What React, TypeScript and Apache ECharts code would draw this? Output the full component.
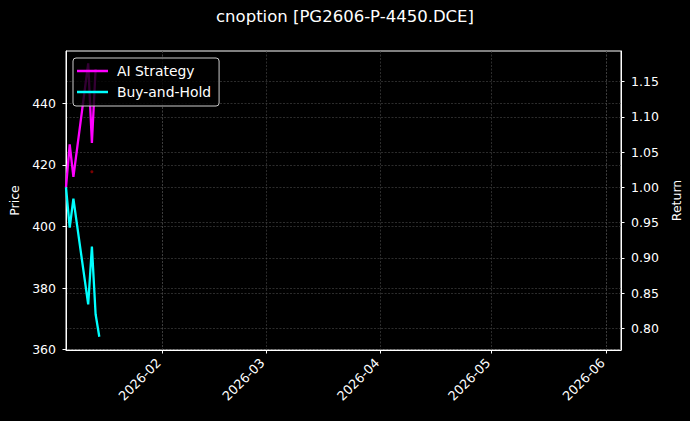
import * as echarts from 'echarts';
import React, { useEffect, useRef } from 'react';

// trading days shown on the chart
const dates = ['2026-01-06', '2026-01-07', '2026-01-08', '2026-01-09', '2026-01-12', '2026-01-13', '2026-01-14', '2026-01-15'];
// cumulative return, AI strategy (no value on the last day)
const aiStrategy = [1.0, 1.061, 1.015, 1.055, 1.176, 1.063, 1.168, null];
// cumulative return, buy-and-hold
const buyAndHold = [1.0, 0.943, 0.984, 0.946, 0.834, 0.916, 0.82, 0.788];
// trade marker on the price axis
const tradeDates = ['2026-01-13'];
const tradePrices = [417.8];

const monthTicks = ['2026-02-01', '2026-03-01', '2026-04-01', '2026-05-01', '2026-06-01'];
const priceTicks = [360, 380, 400, 420, 440];
const returnTicks = [0.8, 0.85, 0.9, 0.95, 1.0, 1.05, 1.1, 1.15];

const ts = (s: string) => {
  const [y, m, d] = s.split('-').map(Number);
  return new Date(y, m - 1, d).getTime();
};

const FONT = 'DejaVu Sans';
const gridLine = { show: true, lineStyle: { color: '#4a4a4a', width: 0.6, type: [2, 1.5] } };
const tick = { show: true, length: 3.5, lineStyle: { color: '#fff', width: 1 } };

const App: React.FC = () => {
  const chartRef = useRef<HTMLDivElement>(null);

  useEffect(() => {
    document.body.style.margin = '0';
    document.body.style.background = '#000';
    const myChart = echarts.init(chartRef.current!, null, { renderer: 'svg' });

    const toPairs = (vals: (number | null)[]) =>
      dates.map((d, i) => [ts(d), vals[i]]).filter((p) => p[1] !== null);

    const option = {
      animation: false,
      backgroundColor: '#000',
      title: {
        text: 'cnoption [PG2606-P-4450.DCE]',
        left: 'center',
        top: 8,
        padding: 0,
        textStyle: { color: '#fff', fontFamily: FONT, fontSize: 16.5, fontWeight: 'normal' },
      },
      legend: {
        data: [
          { name: 'AI Strategy', icon: 'rect' },
          { name: 'Buy-and-Hold', icon: 'rect' },
        ],
        orient: 'vertical',
        left: 73,
        top: 58,
        padding: [5, 8, 6, 4],
        itemGap: 5,
        itemWidth: 31,
        itemHeight: 2.5,
        backgroundColor: 'rgba(0,0,0,0.8)',
        borderColor: '#ccc',
        borderWidth: 1,
        borderRadius: 3,
        textStyle: { color: '#fff', fontFamily: FONT, fontSize: 13.9, lineHeight: 16, padding: [0, 0, 0, 4] },
      },
      grid: {
        left: 66,
        right: 69,
        top: 51,
        bottom: 71,
        show: true,
        borderColor: '#fff',
        borderWidth: 1,
        backgroundColor: '#000',
        outerBoundsMode: 'none',
      },
      xAxis: {
        type: 'time',
        min: ts('2026-01-06'),
        max: ts('2026-06-05'),
        axisLine: { show: true, lineStyle: { color: '#fff' } },
        axisTick: { ...tick, customValues: monthTicks.map(ts) },
        axisLabel: {
          customValues: monthTicks.map(ts),
          formatter: '{yyyy}-{MM}',
          rotate: 45,
          margin: 7,
          padding: [0, 5, 0, 0],
          color: '#fff',
          fontFamily: FONT,
          fontSize: 12.8,
        },
        splitLine: gridLine,
      },
      yAxis: [
        {
          type: 'value',
          position: 'left',
          min: 359.9,
          max: 457.0,
          name: 'Price',
          nameLocation: 'middle',
          nameRotate: 90,
          nameGap: 41,
          nameTextStyle: { color: '#fff', fontFamily: FONT, fontSize: 12.5 },
          axisLine: { show: true, lineStyle: { color: '#fff' } },
          axisTick: { ...tick, customValues: priceTicks },
          axisLabel: { customValues: priceTicks, margin: 10, color: '#fff', fontFamily: FONT, fontSize: 12.5 },
          splitLine: gridLine,
        },
        {
          type: 'value',
          position: 'right',
          min: 0.7692,
          max: 1.1936,
          name: 'Return',
          nameLocation: 'middle',
          nameRotate: 90,
          nameGap: 42,
          nameTextStyle: { color: '#fff', fontFamily: FONT, fontSize: 12.5 },
          axisLine: { show: true, lineStyle: { color: '#fff' } },
          axisTick: { ...tick, customValues: returnTicks },
          axisLabel: {
            customValues: returnTicks,
            formatter: (v: number) => v.toFixed(2),
            margin: 10,
            color: '#fff',
            fontFamily: FONT,
            fontSize: 12.5,
          },
          splitLine: gridLine,
        },
      ],
      series: [
        {
          name: 'Trades',
          type: 'scatter',
          yAxisIndex: 0,
          symbolSize: 3,
          itemStyle: { color: '#9a0000' },
          data: tradeDates.map((d, i) => [ts(d), tradePrices[i]]),
        },
        {
          name: 'AI Strategy',
          type: 'line',
          yAxisIndex: 1,
          symbol: 'none',
          lineStyle: { color: '#ff00ff', width: 2.3 },
          itemStyle: { color: '#ff00ff' },
          data: toPairs(aiStrategy),
        },
        {
          name: 'Buy-and-Hold',
          type: 'line',
          yAxisIndex: 1,
          symbol: 'none',
          lineStyle: { color: '#00ffff', width: 2.3 },
          itemStyle: { color: '#00ffff' },
          data: toPairs(buyAndHold),
        },
      ],
    };

    myChart.setOption(option);

    return () => {
      myChart.dispose();
    };
  }, []);

  return <div ref={chartRef} style={{ width: '690px', height: '421px' }} />;
};

export default App;
